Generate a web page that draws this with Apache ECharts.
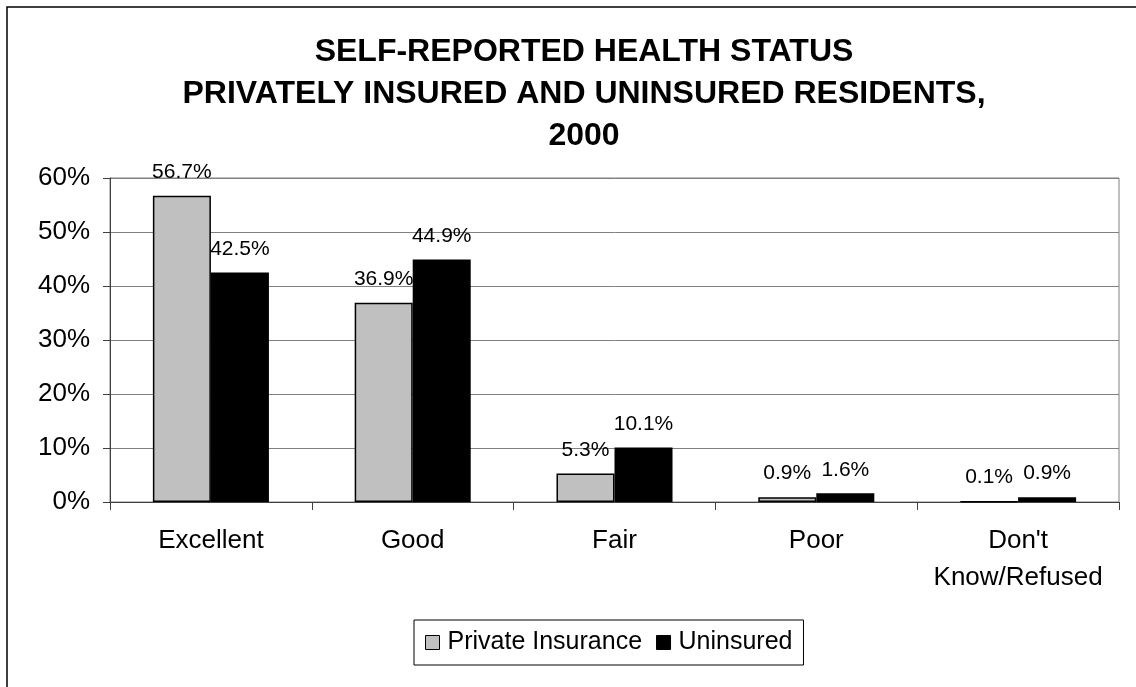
<!DOCTYPE html>
<html>
<head>
<meta charset="utf-8">
<script src="https://cdn.jsdelivr.net/npm/echarts@6/dist/echarts.min.js"></script>
<style>
  html, body { margin: 0; padding: 0; background: #fff; }
  #chart { width: 1136px; height: 687px; }
</style>
</head>
<body>
<div id="chart"></div>
<script>
// categories and values (percent)
const categories = ["Excellent", "Good", "Fair", "Poor", "Don't\nKnow/Refused"]
const privateInsurance = [56.7, 36.9, 5.3, 0.9, 0.1]
const uninsured = [42.5, 44.9, 10.1, 1.6, 0.9]
const seriesNames = ["Private Insurance", "Uninsured"]
const yTicks = { min: 0, max: 60, interval: 10 }

const font = "Liberation Sans"

const labelStyle = {
  show: true,
  position: "top",
  distance: 13,
  color: "#000",
  fontFamily: font,
  fontSize: 21,
  formatter: p => p.value.toFixed(1) + "%"
}

const myChart = echarts.init(document.getElementById("chart"), null, { renderer: "canvas" })

const option = {
  animation: false,
  backgroundColor: "#fff",
  title: {
    text: "SELF-REPORTED HEALTH STATUS\nPRIVATELY INSURED AND UNINSURED RESIDENTS,\n2000",
    left: 579,
    textAlign: "center",
    top: 26,
    textStyle: {
      fontFamily: font,
      fontWeight: "bold",
      fontSize: 32,
      lineHeight: 42,
      color: "#000"
    }
  },
  legend: {
    left: 414,
    top: 620,
    orient: "horizontal",
    borderColor: "#000",
    borderWidth: 1,
    padding: [10, 11, 10, 11],
    itemWidth: 14,
    itemHeight: 14,
    itemGap: 14,
    textStyle: { fontFamily: font, fontSize: 25, color: "#000", padding: [0, 0, 0, 3] },
    data: [
      { name: seriesNames[0], icon: "rect", itemStyle: { color: "#c0c0c0", borderColor: "#000", borderWidth: 1 } },
      { name: seriesNames[1], icon: "rect", itemStyle: { color: "#000", borderColor: "#000", borderWidth: 1 } }
    ]
  },
  grid: {
    left: 110,
    right: 17,
    top: 178,
    bottom: 185,
    show: true,
    borderColor: "#808080",
    borderWidth: 1
  },
  xAxis: {
    type: "category",
    data: categories,
    axisLine: { lineStyle: { color: "#404040", width: 1 } },
    axisTick: { show: true, length: 8, lineStyle: { color: "#404040" } },
    axisLabel: {
      color: "#000",
      fontFamily: font,
      fontSize: 26,
      lineHeight: 37,
      margin: 20,
      interval: 0
    }
  },
  yAxis: {
    type: "value",
    min: yTicks.min,
    max: yTicks.max,
    interval: yTicks.interval,
    axisLine: { show: true, lineStyle: { color: "#404040", width: 1 } },
    axisTick: { show: true, length: 7, lineStyle: { color: "#404040" } },
    axisLabel: {
      color: "#000",
      fontFamily: font,
      fontSize: 26,
      margin: 20,
      formatter: v => v + "%"
    },
    splitLine: { show: true, lineStyle: { color: "#808080", width: 1 } }
  },
  series: [
    {
      name: seriesNames[0],
      type: "bar",
      data: privateInsurance,
      barGap: "0%",
      barCategoryGap: "42.5%",
      itemStyle: { color: "#c0c0c0", borderColor: "#000", borderWidth: 1.5 },
      label: labelStyle
    },
    {
      name: seriesNames[1],
      type: "bar",
      data: uninsured,
      barGap: "0%",
      barCategoryGap: "42.5%",
      itemStyle: { color: "#000", borderColor: "#000", borderWidth: 1.5 },
      label: labelStyle
    }
  ],
  graphic: [
    {
      type: "rect",
      silent: true,
      z: -1,
      shape: { x: 7, y: 7, width: 1160, height: 720 },
      style: { fill: null, stroke: "#000", lineWidth: 1.5 }
    }
  ]
}

myChart.setOption(option)
window.addEventListener("resize", function () {
  myChart.resize()
})
</script>
</body>
</html>
